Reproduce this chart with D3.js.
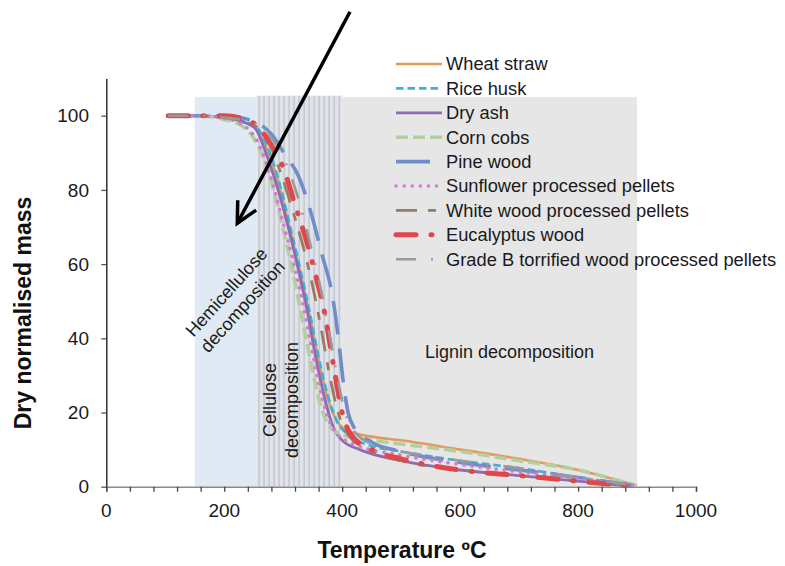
<!DOCTYPE html>
<html>
<head>
<meta charset="utf-8">
<script src="https://cdn.jsdelivr.net/npm/d3@7"></script>
<style>
  html, body { margin: 0; padding: 0; background: #fff; }
  svg { display: block; font-family: "Liberation Sans", Arial, sans-serif; }
</style>
</head>
<body>
<svg id="chart" width="785" height="566"></svg>
<script>
// Thermogravimetric curves: [temperature °C, dry normalised mass %]
const wheatStraw = [[105,100],[150,100],[200,99.5],[250,97],[275,90],[295,80],[315,67],[330,57],[345,46],[360,34],[375,24],[390,18],[410,15],[450,13.5],[500,12.5],[600,10],[700,7.5],[800,4.5],[850,2.5],[900,0.3]];
const riceHusk = [[105,100],[150,100],[200,99.5],[250,97.5],[275,91],[295,81],[315,68],[330,58],[345,47],[360,35],[375,25],[390,18],[410,14],[450,11],[500,9.5],[600,7],[700,5],[800,2.5],[900,0.3]];
const dryAsh = [[105,100],[150,100],[200,99.5],[250,97],[275,88],[295,78],[310,69],[325,59],[340,48],[355,35],[370,24],[385,16],[400,12.5],[430,10],[500,7],[600,4.5],[700,3],[800,1.5],[900,0]];
const cornCobs = [[105,100],[150,100],[200,99],[240,96],[260,91],[275,85],[290,76],[305,66],[320,55],[335,43],[350,31],[365,21],[380,16],[400,14],[450,12.5],[500,11.5],[600,9.5],[700,7],[800,4.5],[850,2.5],[900,0.3]];
const pineWood = [[105,100],[150,100],[200,100],[250,98.5],[280,95],[305,89],[325,84],[345,75],[365,63],[385,50],[395,38],[402,28],[410,20],[420,16],[450,12],[500,9.5],[600,6.5],[700,4.5],[800,2.5],[900,0.2]];
const sunflowerPellets = [[105,100],[150,100],[200,99.3],[240,96.5],[265,90],[285,80],[300,71],[315,62],[330,52],[345,40],[360,28],[375,19],[390,14.5],[420,11.5],[500,8.5],[600,6],[700,4],[800,2.2],[900,0.2]];
const whiteWoodPellets = [[105,100],[150,100],[200,99.5],[250,97.5],[275,93],[295,85],[315,75],[335,64],[350,54],[365,42],[380,29],[395,19],[410,14],[450,9.5],[500,7],[600,4.5],[700,3],[800,1.5],[900,0]];
const eucalyptusWood = [[105,100],[150,100],[200,100],[250,98],[280,92],[300,86],[320,76],[340,66],[355,57],[370,47],[385,33],[400,20],[415,14],[450,10],[500,7.5],[600,4.5],[700,3],[800,1.5],[900,0]];
const gradeBPellets = [[105,100],[150,100],[200,99.5],[250,98],[280,94],[305,87],[325,78],[345,66],[360,56],[375,44],[390,31],[405,20],[420,15],[450,11.5],[500,9.5],[600,7],[700,5],[800,2.5],[900,0.3]];

const seriesNames = ["Wheat straw","Rice husk","Dry ash","Corn cobs","Pine wood","Sunflower processed pellets","White wood processed pellets","Eucalyptus wood","Grade B torrified wood processed pellets"];
const seriesValues = [wheatStraw, riceHusk, dryAsh, cornCobs, pineWood, sunflowerPellets, whiteWoodPellets, eucalyptusWood, gradeBPellets];

// Decomposition stages: [start °C, end °C]
const stageNames = ["Hemicellulose", "Cellulose", "Lignin"];
const stageRanges = [[150,255],[255,400],[400,900]];
const stageTop = 105;

const xTicks = [0,200,400,600,800,1000];
const yTicks = [0,20,40,60,80,100];

// line styles per series
const styles = [
  {color:"#e39a5c", width:2.6, dash:null},
  {color:"#3fb0cf", width:2.6, dash:"7.5,4"},
  {color:"#8c6cb2", width:2.8, dash:null},
  {color:"#b4cf9f", width:3.6, dash:"12,5"},
  {color:"#6f8ec9", width:3.6, dash:"34,14"},
  {color:"#d679cf", width:3.6, dash:"0.1,8", cap:"round"},
  {color:"#9c7b5f", width:2.8, dash:"21,11,8,11"},
  {color:"#e0474d", width:5, dash:"20,15,1,15", cap:"round"},
  {color:"#9a9a9a", width:2.6, dash:"20,15,2,15"}
];

const svg = d3.select("#chart");
const x = d3.scaleLinear().domain([0,1000]).range([106.3,696]);
const y = d3.scaleLinear().domain([0,110]).range([486.7,78.6]);

// stage shading
svg.append("rect")
  .attr("x", x(stageRanges[0][0])).attr("y", y(stageTop))
  .attr("width", x(stageRanges[0][1]) - x(stageRanges[0][0]))
  .attr("height", y(0) - y(stageTop))
  .attr("fill", "#e0eaf4");
svg.append("rect")
  .attr("x", x(stageRanges[2][0])).attr("y", y(stageTop))
  .attr("width", x(stageRanges[2][1]) - x(stageRanges[2][0]))
  .attr("height", y(0) - y(stageTop))
  .attr("fill", "#e6e6e6");
svg.append("rect")
  .attr("x", x(stageRanges[1][0])).attr("y", y(stageTop) - 1.5)
  .attr("width", x(stageRanges[1][1]) - x(stageRanges[1][0]))
  .attr("height", y(0) - y(stageTop) + 1.5)
  .attr("fill", "#e0e4ea");
const stripes = d3.range(stageRanges[1][0] + 4, stageRanges[1][1], 8.5);
svg.append("g").selectAll("line").data(stripes).join("line")
  .attr("x1", d => x(d)).attr("x2", d => x(d))
  .attr("y1", y(stageTop) - 1.5).attr("y2", y(0))
  .attr("stroke", "#c3c8cf").attr("stroke-width", 1.5);

// axes
const xAxis = svg.append("g").attr("transform", `translate(0,${y(0)})`)
  .call(d3.axisBottom(x).tickValues(d3.range(0,1001,40)).tickSize(5).tickFormat(""));
xAxis.select(".domain").attr("stroke", "#8a8a8a").attr("stroke-width", 1.6);
xAxis.selectAll(".tick line").attr("stroke", "#444").attr("stroke-width", 1.3);
svg.append("g").selectAll("text").data(xTicks).join("text")
  .attr("x", d => x(d)).attr("y", 516.5)
  .attr("text-anchor", "middle").attr("font-size", 19).attr("fill", "#1a1a1a")
  .text(d => d);

const yAxis = svg.append("g").attr("transform", `translate(${x(0)},0)`)
  .call(d3.axisLeft(y).tickValues(yTicks).tickSize(5).tickSizeOuter(0).tickFormat(""));
yAxis.select(".domain").attr("stroke", "#111").attr("stroke-width", 1.3);
yAxis.selectAll(".tick line").attr("stroke", "#555").attr("stroke-width", 1.3);
svg.append("g").selectAll("text").data(yTicks).join("text")
  .attr("x", 89).attr("y", d => y(d)).attr("dy", "0.35em")
  .attr("text-anchor", "end").attr("font-size", 19).attr("fill", "#1a1a1a")
  .text(d => d);

// axis titles
svg.append("text")
  .attr("transform", `translate(31,313) rotate(-90)`)
  .attr("text-anchor", "middle").attr("font-size", 23).attr("font-weight", "bold").attr("fill", "#111")
  .text("Dry normalised mass");
svg.append("text")
  .attr("x", 402).attr("y", 558)
  .attr("text-anchor", "middle").attr("font-size", 23).attr("font-weight", "bold").attr("fill", "#111")
  .text("Temperature ºC");

// stage labels
const hemi = svg.append("text")
  .attr("transform", "translate(233,298) rotate(-48)")
  .attr("text-anchor", "middle").attr("font-size", 18).attr("fill", "#1a1a1a");
hemi.append("tspan").attr("x", 0).attr("dy", "-0.15em").text(stageNames[0]);
hemi.append("tspan").attr("x", 0).attr("dy", "1.2em").text("decomposition");

const cell = svg.append("text")
  .attr("transform", "translate(281,400) rotate(-90)")
  .attr("text-anchor", "middle").attr("font-size", 18).attr("fill", "#1a1a1a");
cell.append("tspan").attr("x", 0).attr("dy", "-0.3em").text(stageNames[1]);
cell.append("tspan").attr("x", 0).attr("dy", "1.25em").text("decomposition");

svg.append("text")
  .attr("x", 425).attr("y", 358)
  .attr("font-size", 18).attr("fill", "#1a1a1a")
  .text(stageNames[2] + " decomposition");

// curves
const line = d3.line().x(d => x(d[0])).y(d => y(d[1])).curve(d3.curveMonotoneX);
svg.append("g").selectAll("path").data(seriesValues).join("path")
  .attr("d", line)
  .attr("fill", "none")
  .attr("stroke", (d,i) => styles[i].color)
  .attr("stroke-width", (d,i) => styles[i].width)
  .attr("stroke-dasharray", (d,i) => styles[i].dash)
  .attr("stroke-linecap", (d,i) => styles[i].cap || "butt");

// legend
const legend = svg.append("g").attr("transform", "translate(396,64)");
const rows = legend.selectAll("g").data(seriesNames).join("g")
  .attr("transform", (d,i) => `translate(0,${i*24.4})`);
rows.append("line")
  .attr("x1", 0).attr("x2", 46).attr("y1", 0).attr("y2", 0)
  .attr("stroke", (d,i) => styles[i].color)
  .attr("stroke-width", (d,i) => styles[i].width)
  .attr("stroke-dasharray", (d,i) => styles[i].dash)
  .attr("stroke-linecap", (d,i) => styles[i].cap || "butt");
rows.append("text")
  .attr("x", 50).attr("y", 0).attr("dy", "0.35em")
  .attr("font-size", 18.3).attr("fill", "#1a1a1a")
  .text(d => d);

// pointer arrow
const tail = [350, 11.7], tip = [237.3, 223.3];
const ang = Math.atan2(tail[1]-tip[1], tail[0]-tip[0]);
const armLen = 23, spread = 27 * Math.PI / 180;
const arm = a => [tip[0] + armLen*Math.cos(a), tip[1] + armLen*Math.sin(a)];
svg.append("line")
  .attr("x1", tail[0]).attr("y1", tail[1]).attr("x2", tip[0]).attr("y2", tip[1])
  .attr("stroke", "#000").attr("stroke-width", 3.5);
svg.append("path")
  .attr("d", d3.line()([arm(ang - spread), tip, arm(ang + spread)]))
  .attr("fill", "none").attr("stroke", "#000").attr("stroke-width", 3.5)
  .attr("stroke-linejoin", "miter");
</script>
</body>
</html>
